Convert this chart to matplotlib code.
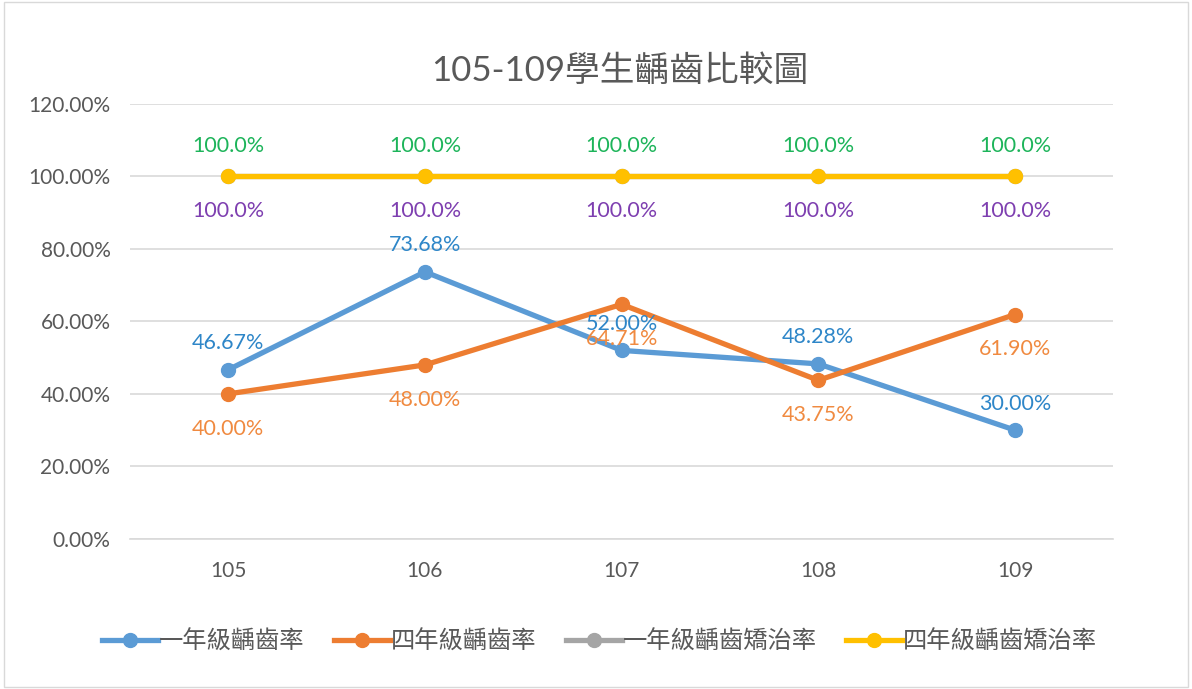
import matplotlib
matplotlib.use("Agg")
import matplotlib.pyplot as plt
from matplotlib.ticker import FuncFormatter
from matplotlib.patches import Rectangle

plt.rcParams['font.family'] = ['Lato', 'Noto Sans CJK TC', 'DejaVu Sans']

years = ["105", "106", "107", "108", "109"]
grade1_caries = [46.67, 73.68, 52.00, 48.28, 30.00]
grade4_caries = [40.00, 48.00, 64.71, 43.75, 61.90]
grade1_treat = [100.0, 100.0, 100.0, 100.0, 100.0]
grade4_treat = [100.0, 100.0, 100.0, 100.0, 100.0]
series_names = ["一年級齲齒率", "四年級齲齒率", "一年級齲齒矯治率", "四年級齲齒矯治率"]
title = "105-109學生齲齒比較圖"

fig = plt.figure(figsize=(11.92, 6.89), dpi=100)
fig.patches.append(Rectangle((0.003, 0.003), 0.994, 0.994, transform=fig.transFigure,
                             fill=False, edgecolor="#d9d9d9", linewidth=1))
ax = fig.add_axes([0.109, 0.218, 0.825, 0.631])

x = list(range(len(years)))
lw = 3.8
ms = 10
ax.plot(x, grade1_caries, "-o", color="#5B9BD5", lw=lw, ms=ms, label=series_names[0], zorder=3)
ax.plot(x, grade4_caries, "-o", color="#ED7D31", lw=lw, ms=ms, label=series_names[1], zorder=4)
ax.plot(x, grade1_treat, "-o", color="#A5A5A5", lw=lw, ms=ms, label=series_names[2], zorder=3)
ax.plot(x, grade4_treat, "-o", color="#FFC000", lw=lw, ms=ms, label=series_names[3], zorder=4)

fs = 15.5
for xi, v in zip(x, grade1_caries):
    ax.annotate(f"{v:.2f}%", (xi, v), xytext=(0, 19), textcoords="offset points",
                ha="center", va="center", fontsize=fs, color="#2E86C8", zorder=6)
for xi, v in zip(x, grade4_caries):
    ax.annotate(f"{v:.2f}%", (xi, v), xytext=(0, -25), textcoords="offset points",
                ha="center", va="center", fontsize=fs, color="#F08A40", zorder=6)
for xi, v in zip(x, grade4_treat):
    ax.annotate(f"{v:.1f}%", (xi, v), xytext=(0, 22), textcoords="offset points",
                ha="center", va="center", fontsize=fs, color="#1DB45A", zorder=6)
for xi, v in zip(x, grade1_treat):
    ax.annotate(f"{v:.1f}%", (xi, v), xytext=(0, -25), textcoords="offset points",
                ha="center", va="center", fontsize=fs, color="#7E3FB0", zorder=6)

ax.set_xlim(-0.5, len(years) - 0.5)
ax.set_ylim(0, 120)
ax.set_yticks(range(0, 121, 20))
ax.yaxis.set_major_formatter(FuncFormatter(lambda v, p: f"{v:.2f}%"))
ax.set_xticks(x)
ax.set_xticklabels(years)
ax.tick_params(axis="both", length=0, labelsize=15, colors="#595959")
ax.tick_params(axis="x", pad=16)
ax.tick_params(axis="y", pad=14)
ax.grid(axis="y", color="#d9d9d9", lw=1.2)
ax.set_axisbelow(True)
for s in ["top", "right", "left"]:
    ax.spines[s].set_visible(False)
ax.spines["bottom"].set_color("#d9d9d9")
ax.spines["bottom"].set_linewidth(1.2)

fig.text(0.52, 0.898, title, ha="center", va="center", fontsize=25, color="#595959")

fig.legend(loc="center", bbox_to_anchor=(0.503, 0.07), ncol=4, frameon=False,
           fontsize=17.5, labelcolor="#595959", handlelength=2.3, handletextpad=0.05,
           columnspacing=1.2)

fig.savefig("out.png", dpi=100)
